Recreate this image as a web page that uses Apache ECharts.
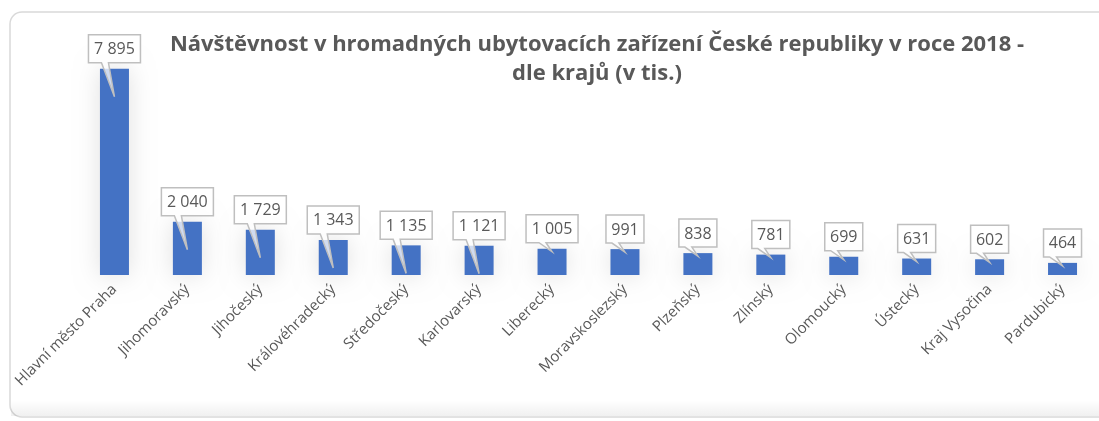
<!DOCTYPE html>
<html>
<head>
<meta charset="utf-8">
<script src="https://cdn.jsdelivr.net/npm/echarts@6/dist/echarts.min.js"></script>
<style>
  html, body { margin: 0; padding: 0; background: #ffffff; }
  #chart { width: 1099px; height: 421px; }
</style>
</head>
<body>
<div id="chart"></div>
<script>
  // data (v tis.)
  const regions = ['Hlavní město Praha', 'Jihomoravský', 'Jihočeský', 'Královéhradecký', 'Středočeský',
    'Karlovarský', 'Liberecký', 'Moravskoslezský', 'Plzeňský', 'Zlínský', 'Olomoucký', 'Ústecký',
    'Kraj Vysočina', 'Pardubický'];
  const visitors = [7895, 2040, 1729, 1343, 1135, 1121, 1005, 991, 838, 781, 699, 631, 602, 464];
  const titleText = 'Návštěvnost v hromadných ubytovacích zařízení České republiky v roce 2018 -\ndle krajů (v tis.)';

  const FONT = '"Open Sans", Lato, sans-serif';
  const measureCtx = document.createElement('canvas').getContext('2d');

  function fmt(v) {
    return String(v).replace(/\B(?=(\d{3})+(?!\d))/g, ' ');
  }

  // callout label with pointer, placed via the axis scales
  function renderCallout(params, api) {
    const idx = api.value(0);
    const p = api.coord([idx, api.value(1)]);
    const txt = fmt(api.value(1));
    measureCtx.font = '16px ' + FONT;
    const w = Math.round(measureCtx.measureText(txt).width) + 11;
    const h = 28;
    const cx = p[0];
    const bottom = p[1] - 6;
    const top = bottom - h;
    const left = cx - w / 2, right = cx + w / 2;
    // first few callouts have long pointers reaching into the bar
    const tipY = idx < 6 ? p[1] + 28 : p[1] + 3;
    return {
      type: 'group',
      children: [{
        type: 'polygon',
        shape: {
          points: [[left, top], [right, top], [right, bottom], [cx - 6, bottom],
            [cx, tipY], [cx - 13, bottom], [left, bottom]]
        },
        style: {fill: 'rgba(255,255,255,0.75)', stroke: '#bfbfbf', lineWidth: 1.5}
      }, {
        type: 'text',
        style: {
          text: txt, x: cx, y: top + h / 2 + 1, align: 'center', verticalAlign: 'middle',
          font: '16px ' + FONT, fill: '#595959'
        }
      }]
    };
  }

  const myChart = echarts.init(document.getElementById('chart'));
  const option = {
    animation: false,
    backgroundColor: '#ffffff',
    graphic: [{
      type: 'rect',
      shape: {x: 10, y: 12, width: 1100, height: 405, r: 12},
      style: {fill: 'none', stroke: '#d9d9d9', lineWidth: 1.5},
      z: -10
    }, {
      type: 'rect',
      shape: {x: 11, y: 400, width: 1100, height: 16},
      style: {
        fill: new echarts.graphic.LinearGradient(0, 0, 0, 1, [
          {offset: 0, color: 'rgba(0,0,0,0)'},
          {offset: 1, color: 'rgba(0,0,0,0.06)'}
        ])
      },
      z: -10
    }, {
      type: 'text',
      x: 597,
      y: 30,
      style: {
        text: titleText, align: 'center', verticalAlign: 'top',
        font: 'bold 22px ' + FONT, fill: '#595959', lineHeight: 29
      }
    }],
    grid: {left: 78, right: 0, top: 40, bottom: 146},
    xAxis: {
      type: 'category',
      data: regions,
      axisLine: {show: false},
      axisTick: {show: false},
      axisLabel: {rotate: 45, margin: 12, fontSize: 15, color: '#595959', fontFamily: FONT, interval: 0}
    },
    yAxis: {
      type: 'value',
      min: 0,
      max: 9000,
      show: false
    },
    series: [{
      type: 'bar',
      data: visitors,
      barWidth: 29,
      itemStyle: {color: '#4472c4', shadowBlur: 25, shadowColor: 'rgba(0,0,0,0.12)'}
    }, {
      type: 'custom',
      renderItem: renderCallout,
      data: visitors.map((v, i) => [i, v]),
      z: 5
    }]
  };
  myChart.setOption(option);
</script>
</body>
</html>
